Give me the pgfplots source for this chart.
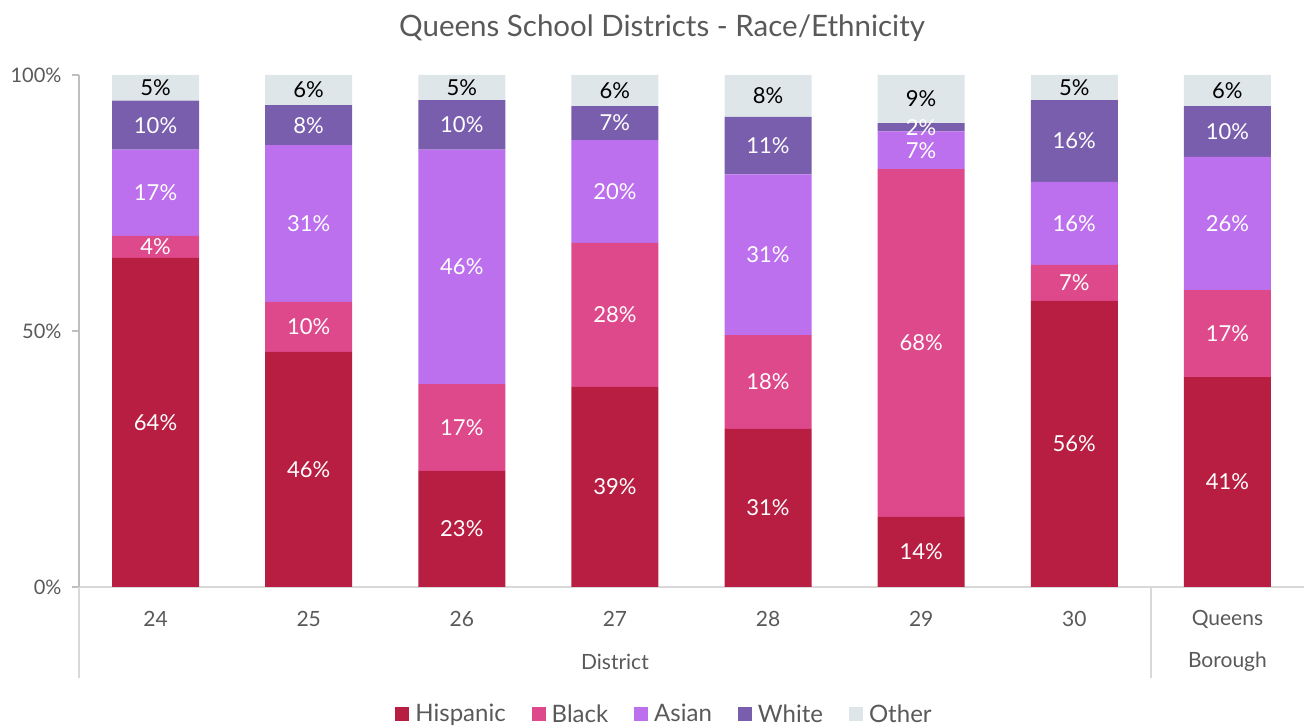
\documentclass[border=0pt]{standalone}
\usepackage{fontspec}
\setmainfont{Lato}
\usepackage{pgfplots}
\pgfplotsset{compat=1.18}
\usepackage{pgfplotstable}
\definecolor{hisp}{RGB}{183,30,66}
\definecolor{blk}{RGB}{222,73,139}
\definecolor{asn}{RGB}{188,112,237}
\definecolor{wht}{RGB}{122,94,174}
\definecolor{oth}{RGB}{223,230,233}
\definecolor{txt}{RGB}{89,89,89}
\definecolor{axl}{RGB}{217,217,217}
\definecolor{ayl}{RGB}{191,191,191}
\pgfplotstableread{
x H B A W O
0 64.3 4.3 16.8 9.6 5.0
1 45.9 9.8 30.6 7.8 5.9
2 22.7 16.9 45.8 9.7 4.9
3 39.1 28.1 20.1 6.6 6.1
4 30.9 18.3 31.4 11.2 8.2
5 13.7 67.9 7.4 1.6 9.4
6 55.9 7.0 16.2 16.0 4.9
7 41.0 17.0 26.0 9.9 6.1
}\data
\begin{document}
\begin{tikzpicture}
\path[use as bounding box] (0,0) rectangle (1304pt,727pt);
\node[text=txt, font=\fontsize{29.5}{34}\selectfont] at (662pt,699pt) {Queens School Districts - Race/Ethnicity};
\begin{axis}[
  at={(79pt,140pt)}, anchor=south west,
  scale only axis, width=1225pt, height=512pt,
  clip=false,
  ybar stacked, bar width=87pt,
  xmin=-0.5, xmax=7.5, ymin=0, ymax=100,
  axis lines*=left,
  x axis line style={axl, line width=1.3pt},
  y axis line style={ayl, line width=1.3pt},
  xtick={0,...,7}, xticklabels={24,25,26,27,28,29,30,Queens},
  xtick style={draw=none},
  ytick={0,50,100},
  yticklabel={\pgfmathprintnumber{\tick}\%},
  ytick style={ayl, line width=1.3pt},
  tick align=outside, major tick length=7pt,
  /pgf/number format/assume math mode=true,
  xticklabel style={anchor=center, yshift=-25pt, text=txt, font=\fontsize{21}{24}\selectfont},
  yticklabel style={text=txt, xshift=-7pt, font=\fontsize{20}{24}\selectfont},
  point meta=explicit,
  nodes near coords={\pgfmathprintnumber[fixed,precision=0]{\pgfplotspointmeta}\%},
  every node near coord/.append style={anchor=center, font=\fontsize{22}{26}\selectfont},
  legend columns=-1,
  legend style={at={(0.478,-0.248)}, anchor=center, draw=none, fill=none, font=\fontsize{24}{28}\selectfont, text=txt,
    /tikz/every even column/.append style={column sep=24pt}},
  legend image code/.code={\fill[#1] (0pt,-7pt) rectangle (14pt,7pt); \path (18pt,0pt);},
]
\addplot[fill=hisp, draw=none, every node near coord/.append style={text=white}] table[x=x,y=H,meta=H]{\data};
\addplot[fill=blk, draw=none, every node near coord/.append style={text=white}] table[x=x,y=B,meta=B]{\data};
\addplot[fill=asn, draw=none, every node near coord/.append style={text=white}] table[x=x,y=A,meta=A]{\data};
\addplot[fill=wht, draw=none, every node near coord/.append style={text=white}] table[x=x,y=W,meta=W]{\data};
\addplot[fill=oth, draw=none, every node near coord/.append style={text=black}] table[x=x,y=O,meta=O]{\data};
\legend{Hispanic, Black, Asian, White, Other}
\draw[axl, line width=1.3pt] (axis cs:-0.5,0) -- ([yshift=-91pt]axis cs:-0.5,0);
\draw[axl, line width=1.3pt] (axis cs:6.5,0) -- ([yshift=-91pt]axis cs:6.5,0);
\node[text=txt, font=\fontsize{21}{24}\selectfont] at ([yshift=-75pt]axis cs:3,0) {District};
\node[text=txt, font=\fontsize{21}{24}\selectfont] at ([yshift=-75pt]axis cs:7,0) {Borough};
\end{axis}
\end{tikzpicture}
\end{document}
